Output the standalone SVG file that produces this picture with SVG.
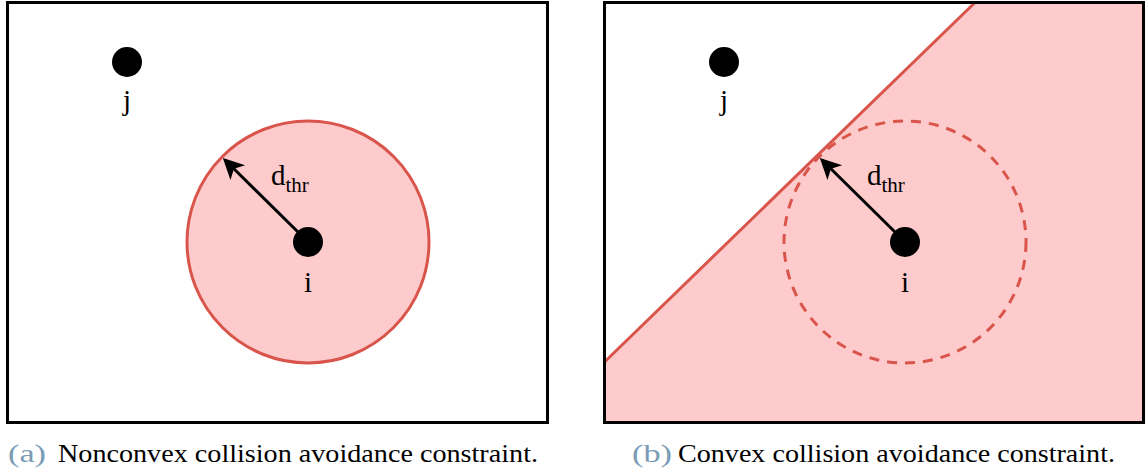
<svg xmlns="http://www.w3.org/2000/svg" width="1146" height="476" viewBox="0 0 1146 476">
<style>
.frame{fill:none;stroke:#000;stroke-width:3}
.region{fill:#fdcbcb;stroke:#d9554b;stroke-width:3}
.dot{fill:#000}
.lbl{font-size:29px;fill:#000}
.sub{font-size:21px}
.cap{font-size:25px;fill:#000}
.capn{fill:#7b9cb6}
.arrow{stroke:#000;stroke-width:3;fill:none;marker-end:url(#ah)}
</style>
<defs>
<marker id="ah" markerWidth="8" markerHeight="8" refX="6" refY="4" orient="auto" markerUnits="strokeWidth">
<path d="M0,0.5 L7,4 L0,7.5 L1.8,4 Z" fill="#000"/>
</marker>
</defs>
<g id="panel-a">
<rect x="7.5" y="2.5" width="540" height="420" fill="#fff"/>
<circle id="region-a" class="region" cx="308" cy="242" r="121"/>
<g id="node-j-a"><circle class="dot" cx="127" cy="62" r="15"/><text class="lbl" font-family="'Liberation Serif', 'Times New Roman', serif" x="127" y="110" text-anchor="middle">j</text></g>
<g id="node-i-a"><circle class="dot" cx="308" cy="242" r="15"/><text class="lbl" font-family="'Liberation Serif', 'Times New Roman', serif" x="308" y="292" text-anchor="middle">i</text></g>
<rect class="frame" x="7.5" y="2.5" width="540" height="420"/>
</g>
<g id="panel-b">
<rect x="604.5" y="2.5" width="539" height="420" fill="#fff"/>
<polygon id="region-b" points="604.5,362 975,2.5 1143.5,2.5 1143.5,422.5 604.5,422.5" fill="#fdcbcb"/>
<line x1="604.5" y1="362" x2="975" y2="2.5" stroke="#d9554b" stroke-width="3"/>
<circle cx="905" cy="242" r="121" fill="none" stroke="#d9554b" stroke-width="3" stroke-dasharray="10,8"/>
<g id="node-j-b"><circle class="dot" cx="724" cy="62" r="15"/><text class="lbl" font-family="'Liberation Serif', 'Times New Roman', serif" x="724" y="110" text-anchor="middle">j</text></g>
<g id="node-i-b"><circle class="dot" cx="905" cy="242" r="15"/><text class="lbl" font-family="'Liberation Serif', 'Times New Roman', serif" x="905" y="292" text-anchor="middle">i</text></g>
<rect class="frame" x="604.5" y="2.5" width="539" height="420"/>
</g>
<g id="connectors">
<line class="arrow" x1="300" y1="234" x2="225" y2="160"/>
<text class="lbl" font-family="'Liberation Serif', 'Times New Roman', serif" x="271" y="185">d<tspan class="sub" dy="7">thr</tspan></text>
<line class="arrow" x1="897" y1="234" x2="822" y2="160"/>
<text class="lbl" font-family="'Liberation Serif', 'Times New Roman', serif" x="867" y="185">d<tspan class="sub" dy="7">thr</tspan></text>
</g>
<g id="captions" font-family="'Liberation Serif', 'Times New Roman', serif">
<text class="cap capn" x="8" y="462" textLength="38" lengthAdjust="spacingAndGlyphs">(a)</text>
<text class="cap" x="58" y="462" textLength="480" lengthAdjust="spacingAndGlyphs">Nonconvex collision avoidance constraint.</text>
<text class="cap capn" x="632" y="462" textLength="40" lengthAdjust="spacingAndGlyphs">(b)</text>
<text class="cap" x="678" y="462" textLength="437" lengthAdjust="spacingAndGlyphs">Convex collision avoidance constraint.</text>
</g>
</svg>
